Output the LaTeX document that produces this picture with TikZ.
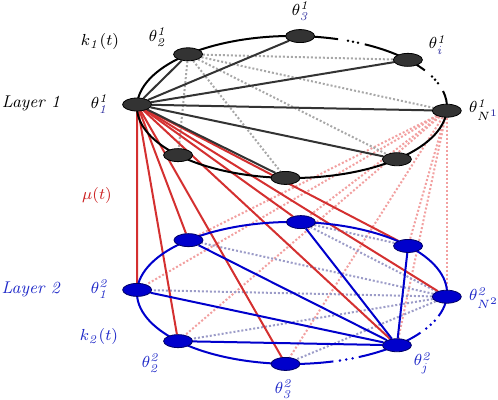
\documentclass[tikz,border=0pt]{standalone}
\usetikzlibrary{shapes.geometric,backgrounds}

\definecolor{nodegray}{HTML}{333333}
\definecolor{nodeblue}{HTML}{0000CC}
\definecolor{linered}{HTML}{D43030}
\definecolor{dotpink}{HTML}{F2A0A0}
\definecolor{dotgray}{HTML}{A8A8A8}
\definecolor{dotblue}{HTML}{9C9CC8}
\definecolor{txtblue}{HTML}{1E28C8}
\definecolor{subblue}{HTML}{28289C}
\definecolor{txtred}{HTML}{CC2222}

\begin{document}
\begin{tikzpicture}[x=0.5pt, y=0.5pt, font=\fontsize{8.5}{10}\selectfont,
  gnode/.style={ellipse, draw=black, line width=0.4pt, fill=nodegray, minimum width=14.5pt, minimum height=6.5pt, inner sep=0pt},
  bnode/.style={ellipse, draw=black!60!blue, line width=0.4pt, fill=nodeblue, minimum width=14.5pt, minimum height=6.5pt, inner sep=0pt},
  lbl/.style={inner sep=0pt},
  ring1/.style={draw=black, line width=1pt},
  ring2/.style={draw=nodeblue, line width=1pt},
  darkedge/.style={draw=nodegray, line width=1pt},
  blueedge/.style={draw=nodeblue, line width=1pt},
  rededge/.style={draw=linered, line width=1pt},
  graydot/.style={draw=dotgray, line width=1pt, dash pattern=on 1pt off 1pt},
  pinkdot/.style={draw=dotpink, line width=1pt, dash pattern=on 1pt off 1pt},
  bluedot/.style={draw=dotblue, line width=1pt, dash pattern=on 1pt off 1pt}]
\useasboundingbox (0,0) rectangle (498,400);
\coordinate (c1) at (292,293);
\coordinate (c2) at (292,107);

% rings with gaps
\draw[ring1] (c1) ++(72.7:155 and 71) arc[start angle=72.7, end angle=373, x radius=155, y radius=71];
\draw[ring1] (c1) ++(31:155 and 71) arc[start angle=31, end angle=62, x radius=155, y radius=71];
\fill (c1) ++(68.8:155 and 71) circle[radius=0.7pt];
\fill (c1) ++(66.8:155 and 71) circle[radius=0.7pt];
\fill (c1) ++(64.8:155 and 71) circle[radius=0.7pt];
\fill (c1) ++(25.4:155 and 71) circle[radius=0.7pt];
\fill (c1) ++(22.6:155 and 71) circle[radius=0.7pt];
\fill (c1) ++(19.6:155 and 71) circle[radius=0.7pt];
\draw[ring2] (c2) ++(341:155 and 71) arc[start angle=341, end angle=645.5, x radius=155, y radius=71];
\draw[ring2] (c2) ++(295.5:155 and 71) arc[start angle=295.5, end angle=326, x radius=155, y radius=71];
\fill[nodeblue] (c2) ++(288:155 and 71) circle[radius=0.7pt];
\fill[nodeblue] (c2) ++(290.5:155 and 71) circle[radius=0.7pt];
\fill[nodeblue] (c2) ++(293:155 and 71) circle[radius=0.7pt];
\fill[nodeblue] (c2) ++(330:155 and 71) circle[radius=0.7pt];
\fill[nodeblue] (c2) ++(333.5:155 and 71) circle[radius=0.7pt];
\fill[nodeblue] (c2) ++(337:155 and 71) circle[radius=0.7pt];

% layer 1
\path (c1) ++(178:155 and 71) node[gnode] (a1) {};
\path (c1) ++(132.1:155 and 71) node[gnode] (a2) {};
\path (c1) ++(87:155 and 71) node[gnode] (a3) {};
\path (c1) ++(41.6:155 and 71) node[gnode] (ai) {};
\path (c1) ++(357:155 and 71) node[gnode] (aN) {};
\path (c1) ++(312.6:155 and 71) node[gnode] (a6) {};
\path (c1) ++(267.6:155 and 71) node[gnode] (a7) {};
\path (c1) ++(222.7:155 and 71) node[gnode] (a8) {};

% layer 2
\path (c2) ++(177.5:155 and 71) node[bnode] (b1) {};
\path (c2) ++(222.7:155 and 71) node[bnode] (b2) {};
\path (c2) ++(267.6:155 and 71) node[bnode] (b3) {};
\path (c2) ++(312.6:155 and 71) node[bnode] (bj) {};
\path (c2) ++(357:155 and 71) node[bnode] (bN) {};
\path (c2) ++(41.5:155 and 71) node[bnode] (b6) {};
\path (c2) ++(86.7:155 and 71) node[bnode] (b7) {};
\path (c2) ++(131.9:155 and 71) node[bnode] (b8) {};

\begin{scope}[on background layer]
\draw[pinkdot] (aN) -- (b1);
\draw[pinkdot] (aN) -- (b2);
\draw[pinkdot] (aN) -- (b3);
\draw[pinkdot] (aN) -- (bj);
\draw[pinkdot] (aN) -- (bN);
\draw[pinkdot] (aN) -- (b6);
\draw[pinkdot] (aN) -- (b7);
\draw[pinkdot] (aN) -- (b8);
\draw[graydot] (a2) -- (ai);
\draw[graydot] (a2) -- (aN);
\draw[graydot] (a2) -- (a6);
\draw[graydot] (a2) -- (a7);
\draw[graydot] (a2) -- (a8);
\draw[bluedot] (bN) -- (b1);
\draw[bluedot] (bN) -- (b2);
\draw[bluedot] (bN) -- (b3);
\draw[bluedot] (bN) -- (b7);
\draw[bluedot] (bN) -- (b8);
\draw[bluedot] (b7) -- (b6);
\draw[rededge] (a1) -- (b1);
\draw[rededge] (a1) -- (b2);
\draw[rededge] (a1) -- (b3);
\draw[rededge] (a1) -- (bj);
\draw[rededge] (a1) -- (bN);
\draw[rededge] (a1) -- (b6);
\draw[rededge] (a1) -- (b7);
\draw[rededge] (a1) -- (b8);
\draw[blueedge] (bj) -- (b1);
\draw[blueedge] (bj) -- (b2);
\draw[blueedge] (bj) -- (b6);
\draw[blueedge] (bj) -- (b7);
\draw[blueedge] (bj) -- (b8);
\draw[darkedge] (a1) -- (a2);
\draw[darkedge] (a1) -- (a3);
\draw[darkedge] (a1) -- (ai);
\draw[darkedge] (a1) -- (aN);
\draw[darkedge] (a1) -- (a6);
\draw[darkedge] (a1) -- (a7);
\end{scope}

% labels
\node[lbl] (lay1) at (31,297) {\textit{Layer 1}};
\node[lbl] (la1) at (100,296) {$\theta^{\mathit{1}}_{\color{subblue}\mathit{1}}$};
\node[lbl] (k1) at (100,358) {$k_{\mathit{1}}(t)$};
\node[lbl] (la2) at (158,363) {$\theta^{\mathit{1}}_{\mathit{2}}$};
\node[lbl] (la3) at (301,389) {$\theta^{\mathit{1}}_{\color{subblue}\mathit{3}}$};
\node[lbl] (lai) at (438,355) {$\theta^{\mathit{1}}_{\color{subblue}\mathit{i}}$};
\node[lbl] (laN) at (484,290) {$\theta^{\mathit{1}}_{N^{\color{subblue}1}}$};
\node[lbl, text=txtred] (mu) at (97,204) {$\mu(t)$};
\node[lbl, text=txtblue] (lay2) at (31,111) {\textit{Layer 2}};
\node[lbl, text=txtblue] (lb1) at (100,111) {$\theta^{\mathit{2}}_{\mathit{1}}$};
\node[lbl, text=txtblue] (k2) at (99,63) {$k_{\mathit{2}}(t)$};
\node[lbl, text=txtblue] (lb2) at (151,37) {$\theta^{\mathit{2}}_{\mathit{2}}$};
\node[lbl, text=txtblue] (lb3) at (284,11) {$\theta^{\mathit{2}}_{\mathit{3}}$};
\node[lbl, text=txtblue] (lbj) at (423,37) {$\theta^{\mathit{2}}_{\mathit{j}}$};
\node[lbl, text=txtblue] (lbN) at (484,102) {$\theta^{\mathit{2}}_{N^{2}}$};
\end{tikzpicture}
\end{document}
